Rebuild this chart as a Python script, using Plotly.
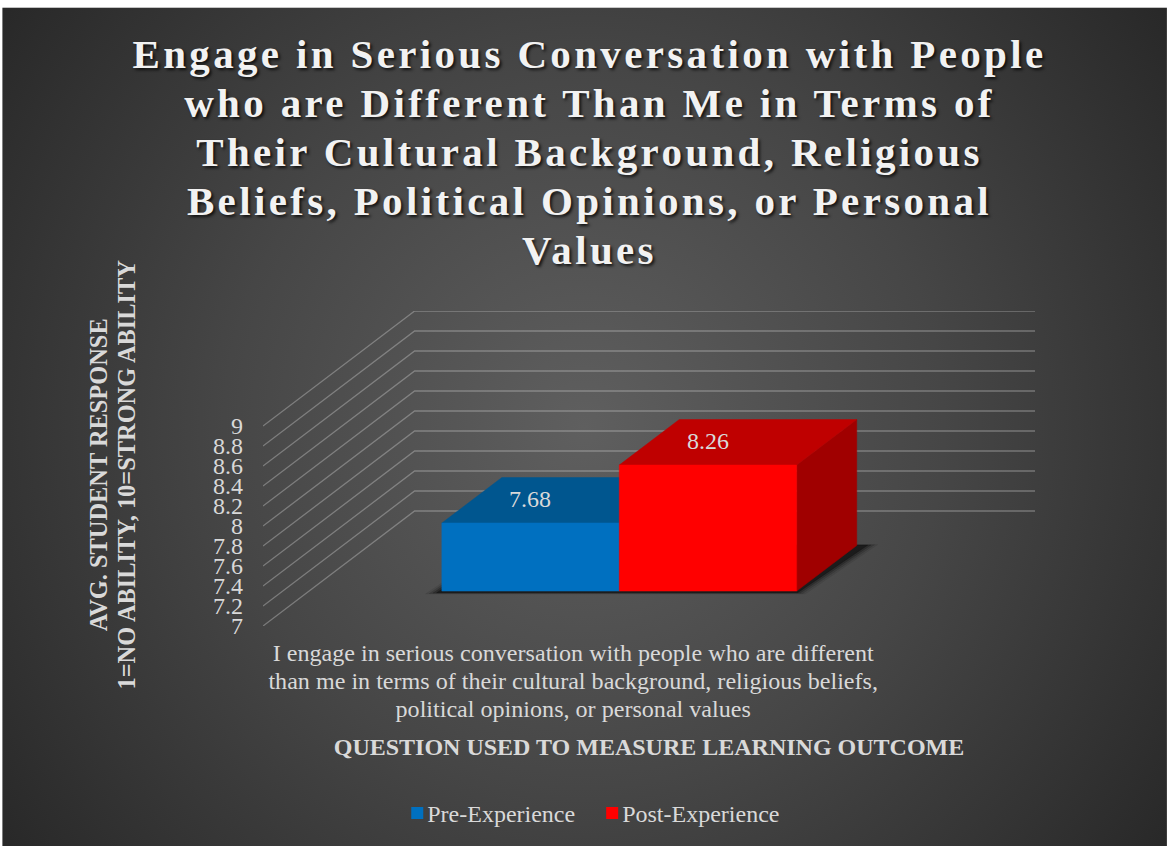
import base64
import plotly.graph_objects as go

# ---- data ----
categories = ["I engage in serious conversation with people who are different<br>than me in terms of their cultural background, religious beliefs,<br>political opinions, or personal values"]
series_names = ["Pre-Experience", "Post-Experience"]
pre_values = [7.68]
post_values = [8.26]
y_ticks = [7, 7.2, 7.4, 7.6, 7.8, 8, 8.2, 8.4, 8.6, 8.8, 9]
y_tick_labels = ["7", "7.2", "7.4", "7.6", "7.8", "8", "8.2", "8.4", "8.6", "8.8", "9"]
title_text = ("Engage in Serious Conversation with People<br>who are Different Than Me in Terms of<br>"
              "Their Cultural Background, Religious<br>Beliefs, Political Opinions, or Personal<br>Values")
y_title = "AVG. STUDENT RESPONSE<br>1=NO ABILITY, 10=STRONG ABILITY"
x_title = "QUESTION USED TO MEASURE LEARNING OUTCOME"

# ---- oblique projection and style ----
W, H = 1167, 846
L, R, T, B = 262.7, 132, 311, 220.3
SKEW_X = 151.7 / 620.7      # category units per unit of depth
SKEW_Y = 1.15               # value units per unit of depth
BASE = 7
BAR_W = 0.286
D0, D1 = 0.304, 0.70
XMAX = 1 + SKEW_X
YMAX = 9 + SKEW_Y


def P(x, v, d):
    return x + d * SKEW_X, v + d * SKEW_Y


def poly(fig, pts, color):
    fig.add_trace(go.Scatter(
        x=[p[0] for p in pts] + [pts[0][0]], y=[p[1] for p in pts] + [pts[0][1]],
        mode="lines", fill="toself", fillcolor=color, line=dict(width=0.5, color=color),
        hoverinfo="skip", showlegend=False))


def px(xp):
    return (xp - L) / (W - L - R)


def py(yp):
    return (H - B - yp) / (H - T - B)


fig = go.Figure()

# gridlines: floor-to-wall diagonal then back wall
for v in y_ticks:
    a, b = P(0, v, 0), P(0, v, 1)
    c = P(1, v, 1)
    fig.add_trace(go.Scatter(x=[a[0], b[0], c[0]], y=[a[1], b[1], c[1]], mode="lines",
                             line=dict(color="rgba(217,217,217,0.36)", width=1.3),
                             hoverinfo="skip", showlegend=False, cliponaxis=False))

xc = 0.5
# soft floor shadow from stacked translucent polygons
for grow, alpha in [(0.020, 0.08), (0.015, 0.14), (0.010, 0.22), (0.005, 0.38)]:
    x0, x1 = xc - BAR_W - grow, xc + BAR_W + grow
    d0, d1 = D0 - grow * 0.8 - 0.01, D1 + grow * 0.4
    poly(fig, [P(x0, BASE, d0), P(x1, BASE, d0), P(x1 + 0.012, BASE, d1), P(x0 + 0.012, BASE, d1)],
         f"rgba(0,0,0,{alpha})")

faces = [
    (xc - BAR_W, xc, pre_values[0], "#0070C0", "#00568F", "#004C80"),
    (xc, xc + BAR_W, post_values[0], "#FF0000", "#BF0000", "#A00000"),
]
for x0, x1, v, front, top, side in faces:
    poly(fig, [P(x1, BASE, D0), P(x1, BASE, D1), P(x1, v, D1), P(x1, v, D0)], side)
    poly(fig, [P(x0, v, D0), P(x1, v, D0), P(x1, v, D1), P(x0, v, D1)], top)
    poly(fig, [P(x0, BASE, D0), P(x1, BASE, D0), P(x1, v, D0), P(x0, v, D0)], front)

# legend entries
for name, color in zip(series_names, ["#0070C0", "#FF0000"]):
    fig.add_trace(go.Scatter(x=[None], y=[None], mode="markers", name=name,
                             marker=dict(symbol="square", size=12, color=color)))

# data labels on the bar tops
annotations = []
for (x0, x1, v, *_), lab in zip(faces, [pre_values[0], post_values[0]]):
    ax, ay = P((x0 + x1) / 2, v, 0.515)
    annotations.append(dict(x=ax - 0.212 * SKEW_X, y=ay, xref="x", yref="y", text=f"{lab:g}", showarrow=False,
                            font=dict(family="Liberation Serif", size=24, color="#D9D9D9")))
# rotated two-line value-axis title
annotations.append(dict(x=px(114), y=py(474), xref="paper", yref="paper", text=y_title, showarrow=False,
                        textangle=-90, xanchor="center", yanchor="middle",
                        font=dict(family="Liberation Serif", size=24.4, weight="bold", color="#D9D9D9")))

svg = (f'<svg xmlns="http://www.w3.org/2000/svg" width="{W}" height="{H}">'
       '<defs><radialGradient id="g" gradientUnits="userSpaceOnUse" cx="584" cy="427" r="720">'
       '<stop offset="0" stop-color="#5F5F5F"/><stop offset="0.5" stop-color="#464646"/>'
       '<stop offset="1" stop-color="#282828"/></radialGradient></defs>'
       f'<rect x="2" y="8" width="{W-2}" height="{H-8}" fill="url(#g)"/></svg>')
bg = "data:image/svg+xml;base64," + base64.b64encode(svg.encode()).decode()

fig.update_layout(
    width=W, height=H, margin=dict(l=L, r=R, t=T, b=B, autoexpand=False),
    paper_bgcolor="white", plot_bgcolor="rgba(0,0,0,0)",
    font=dict(family="Liberation Serif", color="#D9D9D9"),
    title=dict(text=title_text, x=589.5 / W, xref="container", xanchor="center",
               y=1 - 68 / H, yref="container", yanchor="top",
               font=dict(family="Liberation Serif", size=41, color="#F2F2F2",
                         weight="bold", shadow="2px 2px 3px rgba(0,0,0,0.75)")),
    xaxis=dict(range=[0, XMAX], showgrid=False, zeroline=False, showline=False,
               tickmode="array", tickvals=[xc], ticktext=categories, ticks="", ticklen=0,
               tickfont=dict(size=24.1, color="#D9D9D9"), tickangle=0, automargin=False,
               ticklabelstandoff=10,
               title=dict(text=x_title, standoff=10,
                          font=dict(family="Liberation Serif", size=24, weight="bold", color="#D9D9D9"))),
    yaxis=dict(range=[BASE, YMAX], showgrid=False, zeroline=False, showline=False,
               tickmode="array", tickvals=y_ticks, ticktext=y_tick_labels, ticks="", ticklen=0,
               tickfont=dict(size=24, color="#D9D9D9"), ticklabelstandoff=19, automargin=False),
    legend=dict(orientation="h", x=px(387), y=py(813), xanchor="left", yanchor="middle",
                font=dict(family="Liberation Serif", size=24, color="#D9D9D9"),
                bgcolor="rgba(0,0,0,0)"),
    annotations=annotations,
    images=[dict(source=bg, xref="paper", yref="paper", x=px(0), y=py(0),
                 sizex=W / (W - L - R), sizey=H / (H - T - B), xanchor="left", yanchor="top",
                 sizing="stretch", layer="below")],
)

post = """
document.body.style.margin='0';
var gd=document.getElementById('{plot_id}');
function squeeze(sel,ratio){
  gd.querySelectorAll(sel).forEach(function(t){
    var d=parseFloat(t.getAttribute('dy'));
    if(d){t.setAttribute('dy',(d*ratio/1.3)+'em');}
  });
}
gd.querySelectorAll('.gtitle').forEach(function(t){t.style.letterSpacing='3.35px';});
squeeze('.gtitle tspan.line',49/41);
squeeze('.xtick tspan.line',28/24.1);
squeeze('.annotation-text tspan.line',28/24.4);
gd.querySelectorAll('.legend .legendpoints').forEach(function(p){p.setAttribute('transform','translate(10,0)');});
var items=gd.querySelectorAll('.legend .traces');
if(items.length>1){
  var m=/translate\\(([-\\d.]+),\\s*([-\\d.]+)\\)/.exec(items[1].getAttribute('transform'));
  if(m){items[1].setAttribute('transform','translate('+(parseFloat(m[1])+2)+','+m[2]+')');}
}
"""
fig.write_html("out.html", post_script=post, config=dict(displayModeBar=False))
